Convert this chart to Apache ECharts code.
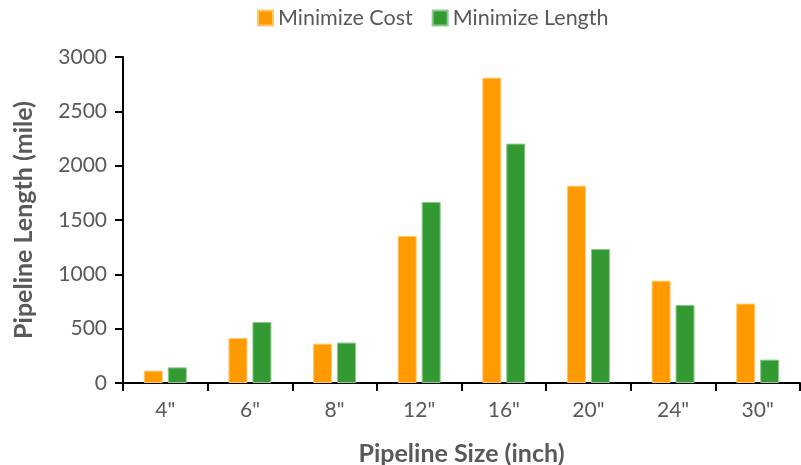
<!DOCTYPE html>
<html>
<head>
<meta charset="utf-8">
<script src="https://cdn.jsdelivr.net/npm/echarts@6/dist/echarts.min.js"></script>
<style>
  html, body { margin: 0; padding: 0; background: #fff; }
  #chart { width: 801px; height: 465px; }
</style>
</head>
<body>
<div id="chart"></div>
<script>
// Pipeline sizes on the category axis
const sizes = ['4"', '6"', '8"', '12"', '16"', '20"', '24"', '30"'];
// Total pipeline length (miles) per size for each scenario
const minimizeCost = [114, 414, 362, 1353, 2810, 1816, 942, 731];
const minimizeLength = [144, 561, 372, 1666, 2203, 1233, 718, 215];
const yTicks = { min: 0, max: 3000, step: 500 };

const FONT = 'Lato';
const GREY = '#595959';

const chart = echarts.init(document.getElementById('chart'), null, { renderer: 'canvas' });
chart.setOption({
  animation: false,
  textStyle: { fontFamily: FONT },
  legend: {
    top: 2,
    left: 252,
    itemWidth: 15,
    itemHeight: 15,
    itemGap: 19,
    icon: 'rect',
    textStyle: { fontFamily: FONT, fontSize: 21.5, color: GREY },
    data: ['Minimize Cost', 'Minimize Length']
  },
  grid: { left: 123, right: 1, top: 57, bottom: 82, containLabel: false, outerBoundsMode: 'none' },
  xAxis: {
    type: 'category',
    data: sizes,
    name: 'Pipeline Size (inch)',
    nameLocation: 'middle',
    nameGap: 58,
    nameTextStyle: { fontFamily: FONT, fontSize: 25, fontWeight: 'bold', color: GREY },
    axisLine: { lineStyle: { color: '#000', width: 2 } },
    axisTick: { show: true, alignWithLabel: false, interval: 0, length: 8, lineStyle: { color: '#000', width: 2 } },
    axisLabel: { fontFamily: FONT, fontSize: 21, color: GREY, margin: 17 }
  },
  yAxis: {
    type: 'value',
    min: yTicks.min,
    max: yTicks.max,
    interval: yTicks.step,
    name: 'Pipeline Length (mile)',
    nameLocation: 'middle',
    nameRotate: 90,
    nameGap: 87,
    nameTextStyle: { fontFamily: FONT, fontSize: 25, fontWeight: 'bold', color: GREY },
    axisLine: { show: true, lineStyle: { color: '#000', width: 2 } },
    axisTick: { show: true, length: 8, lineStyle: { color: '#000', width: 2 } },
    axisLabel: { fontFamily: FONT, fontSize: 21, color: GREY, margin: 16, formatter: v => String(v) },
    splitLine: { show: false }
  },
  series: [
    {
      name: 'Minimize Cost',
      type: 'bar',
      data: minimizeCost,
      barWidth: 19,
      barGap: '26%',
      itemStyle: { color: '#FF9A00', borderColor: '#FFC870', borderWidth: 1 }
    },
    {
      name: 'Minimize Length',
      type: 'bar',
      data: minimizeLength,
      barWidth: 19,
      barGap: '26%',
      itemStyle: { color: '#339A33', borderColor: '#8CCB8C', borderWidth: 1 }
    }
  ]
});
</script>
</body>
</html>
